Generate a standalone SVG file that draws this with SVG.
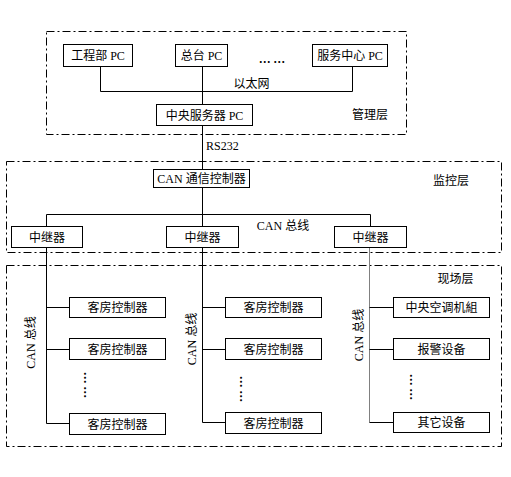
<svg xmlns="http://www.w3.org/2000/svg" width="511" height="477" viewBox="0 0 511 477">
<style>
.bg{fill:#ffffff}
.layer{fill:none;stroke:#000;stroke-width:1;stroke-dasharray:8,3,2,3}
.box{fill:#fff;stroke:#000;stroke-width:1}
.ln{fill:none;stroke:#000;stroke-width:1}
.gl{fill:none;stroke:#808080;stroke-width:1}
text{font-family:"Liberation Serif","Noto Sans CJK SC",serif;font-size:12px;fill:#000}
.c{text-anchor:middle}
.dots{font-family:"Noto Sans CJK SC",sans-serif;font-weight:bold}
</style>
<rect class="bg" x="0" y="0" width="511" height="477"/>
<g id="layers">
<rect class="layer" x="46.5" y="31.5" width="360" height="103"/>
<rect class="layer" x="6.5" y="161.5" width="495" height="91"/>
<rect class="layer" x="6.5" y="265.5" width="495" height="181"/>
<text x="370" y="119" class="c">管理层</text>
<text x="451" y="185" class="c">监控层</text>
<text x="455.5" y="283" class="c">现场层</text>
</g>
<g id="connectors">
<path class="ln" d="M100.5 66.5V91.5H352.5V66.5M202.5 66.5V104.5M202.5 125.5V169.5M202.5 187.5V226.5M46.5 226.5V214.5H370.5V226.5"/>
<path class="ln" d="M46.5 247.5V423.5M46.5 307.5H69.5M46.5 349.5H69.5M46.5 423.5H69.5"/>
<path class="ln" d="M202.5 247.5V422.5M202.5 307.5H225.5M202.5 349.5H225.5M202.5 422.5H225.5"/>
<path class="gl" d="M369.5 247.5V422.5"/>
<path class="ln" d="M369.5 307.5H393.5M369.5 349.5H393.5M369.5 422.5H393.5"/>
<text x="251.5" y="87.5" class="c">以太网</text>
<text x="206" y="150">RS232</text>
<text x="283" y="230" class="c">CAN 总线</text>
<text transform="translate(35 342.5) rotate(-90)" class="c">CAN 总线</text>
<text transform="translate(196 339) rotate(-90)" class="c">CAN 总线</text>
<text transform="translate(362.5 335) rotate(-90)" class="c">CAN 总线</text>
</g>
<g id="n-gcb"><rect class="box" x="63.5" y="44.5" width="69" height="22"/><text x="98" y="60" class="c">工程部 PC</text></g>
<g id="n-zt"><rect class="box" x="175.5" y="44.5" width="52" height="22"/><text x="201.5" y="60" class="c">总台 PC</text></g>
<g id="n-dots"><text x="272" y="67" class="c dots">… …</text></g>
<g id="n-fwzx"><rect class="box" x="312.5" y="44.5" width="75" height="22"/><text x="350" y="60" class="c">服务中心 PC</text></g>
<g id="n-server"><rect class="box" x="156.5" y="104.5" width="96" height="21"/><text x="204.5" y="119.5" class="c">中央服务器 PC</text></g>
<g id="n-can"><rect class="box" x="153.5" y="169.5" width="96" height="18"/><text x="201.5" y="183" class="c">CAN 通信控制器</text></g>
<g id="n-r1"><rect class="box" x="11.5" y="226.5" width="71" height="21"/><text x="47" y="241.5" class="c">中继器</text></g>
<g id="n-r2"><rect class="box" x="166.5" y="226.5" width="72" height="21"/><text x="202.5" y="241.5" class="c">中继器</text></g>
<g id="n-r3"><rect class="box" x="334.5" y="226.5" width="72" height="21"/><text x="370.5" y="241.5" class="c">中继器</text></g>
<g id="n-k1"><rect class="box" x="69.5" y="297.5" width="96" height="20"/><text x="117.5" y="312" class="c">客房控制器</text></g>
<g id="n-k2"><rect class="box" x="69.5" y="338.5" width="96" height="21"/><text x="117.5" y="353.5" class="c">客房控制器</text></g>
<g id="n-kd"><text transform="translate(84 385) rotate(90)" class="c dots" dy="4">… …</text></g>
<g id="n-k3"><rect class="box" x="69.5" y="413.5" width="96" height="21"/><text x="117.5" y="428.5" class="c">客房控制器</text></g>
<g id="n-k4"><rect class="box" x="225.5" y="297.5" width="96" height="20"/><text x="273.5" y="312" class="c">客房控制器</text></g>
<g id="n-k5"><rect class="box" x="225.5" y="338.5" width="96" height="21"/><text x="273.5" y="353.5" class="c">客房控制器</text></g>
<g id="n-kd2"><text transform="translate(240 389) rotate(90)" class="c dots" dy="4">… …</text></g>
<g id="n-k6"><rect class="box" x="225.5" y="412.5" width="96" height="21"/><text x="273.5" y="427.5" class="c">客房控制器</text></g>
<g id="n-ac"><rect class="box" x="393.5" y="297.5" width="96" height="20"/><text x="441.5" y="312" class="c">中央空调机組</text></g>
<g id="n-alarm"><rect class="box" x="393.5" y="338.5" width="96" height="21"/><text x="441.5" y="353.5" class="c">报警设备</text></g>
<g id="n-od"><text transform="translate(410 387) rotate(90)" class="c dots" dy="4">… …</text></g>
<g id="n-other"><rect class="box" x="393.5" y="412.5" width="96" height="20"/><text x="441.5" y="427" class="c">其它设备</text></g>
</svg>
